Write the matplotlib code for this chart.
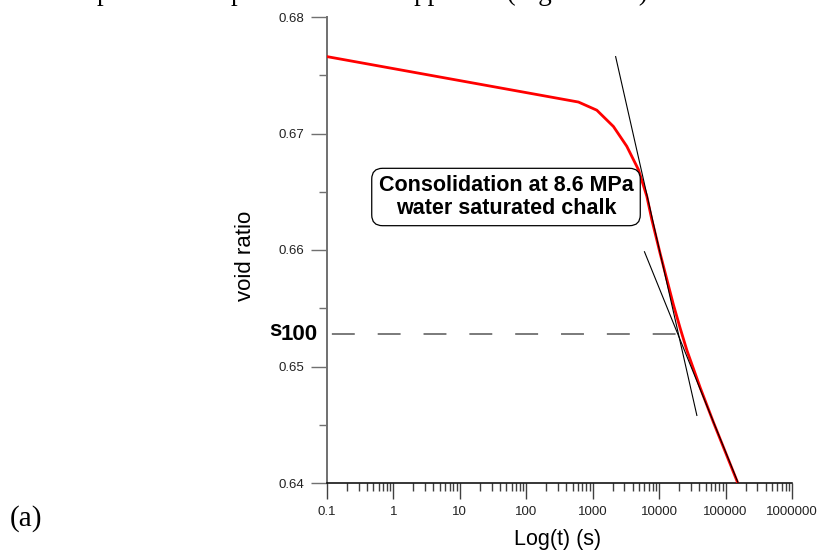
import numpy as np
import matplotlib
matplotlib.use("Agg")
import matplotlib.pyplot as plt
from matplotlib.ticker import FixedLocator, MultipleLocator, LogLocator, NullFormatter, FormatStrFormatter

# consolidation curve, 8.6 MPa, water saturated chalk
t_s = [0.1, 610, 1153, 2051, 3258, 4875, 6531, 7762, 10351,
       16406, 20701, 26122, 41400, 65766, 147911, 152000]
void_ratio = [0.6766, 0.6727, 0.6720, 0.6706, 0.6689, 0.6669, 0.6646, 0.6626, 0.6597,
              0.6553, 0.6533, 0.6514, 0.6482, 0.6452, 0.6402, 0.6400]

# tangent to the steep part and to the secondary compression part
tan1_t = [2213, 36980]
tan1_e = [0.6766, 0.6458]
tan2_t = [6012, 154900]
tan2_e = [0.65985, 0.6400]

# e100 from intersection of the two tangents
s100 = 0.6528
t100 = 19300

x_ticks = [0.1, 1, 10, 100, 1000, 10000, 100000, 1000000]
x_labels = ["0.1", "1", "10", "100", "1000", "10000", "100000", "1000000"]

W, H = 817, 552
def fx(px):
    return px / W
def fy(py):
    return 1 - py / H

sans = ["Liberation Sans", "DejaVu Sans"]
serif = ["Liberation Serif", "DejaVu Serif"]
plt.rcParams["font.family"] = sans
plt.rcParams["lines.scale_dashes"] = False

fig = plt.figure(figsize=(W / 100, H / 100), dpi=100)
ax = fig.add_axes([fx(327), fy(483), (792 - 327) / W, (483 - 17) / H])

ax.plot(t_s, void_ratio, color="#ff0000", lw=2.0, zorder=3)
ax.plot(tan1_t, tan1_e, color="black", lw=0.8, zorder=4)
ax.plot(tan2_t, tan2_e, color="black", lw=0.8, zorder=4)
ax.plot([0.1, t100], [s100, s100], color="#707070", lw=1.3,
        linestyle=(29.5, (16.5, 16.5)), zorder=2)

ax.set_xscale("log")
ax.set_xlim(0.1, 1e6)
ax.set_ylim(0.64, 0.68)

ax.spines["top"].set_visible(False)
ax.spines["right"].set_visible(False)
ax.spines["left"].set_color("#707070")
ax.spines["left"].set_linewidth(1.4)
ax.spines["bottom"].set_color("black")
ax.spines["bottom"].set_linewidth(1.1)

ax.xaxis.set_major_locator(FixedLocator(x_ticks))
ax.set_xticklabels(x_labels)
ax.xaxis.set_minor_locator(LogLocator(base=10, subs=range(2, 10), numticks=20))
ax.xaxis.set_minor_formatter(NullFormatter())
ax.yaxis.set_major_locator(MultipleLocator(0.01))
ax.yaxis.set_minor_locator(MultipleLocator(0.005))
ax.yaxis.set_major_formatter(FormatStrFormatter("%.2f"))

ax.tick_params(axis="both", which="major", direction="out", length=11.5, width=1.0,
               labelsize=9.5, pad=5, labelcolor="#222222")
ax.tick_params(axis="both", which="minor", direction="out", length=5.8, width=1.0)
ax.tick_params(axis="x", which="both", color="#404040")
ax.tick_params(axis="y", which="both", color="#707070")

fig.text(fx(558), fy(540), "Log(t) (s)", fontsize=15.5, ha="center", va="center")
fig.text(fx(245), fy(256), "void ratio", fontsize=16, rotation=90, ha="center", va="center")

# s100 label
fig.text(fx(318), fy(334), "100", fontsize=16, fontweight="bold", ha="right", va="center")
fig.text(fx(281), fy(336), "s", fontsize=16, fontweight="bold", ha="right", va="baseline")

fig.text(fx(506), fy(197), "Consolidation at 8.6 MPa\nwater saturated chalk",
         fontsize=15.5, fontweight="bold", ha="center", va="center", linespacing=1.1,
         bbox=dict(boxstyle="round,pad=0.32,rounding_size=0.5", fc="white", ec="black", lw=0.9))

fig.text(fx(26), fy(519), "(a)", fontsize=21, family=serif, ha="center", va="center")
fig.text(fx(97), fy(-0.5), "plastic flow phase that later appeared (Figure 3.4a)",
         fontsize=19.5, family=serif, ha="left", va="baseline")

fig.savefig("out.png", dpi=100)
